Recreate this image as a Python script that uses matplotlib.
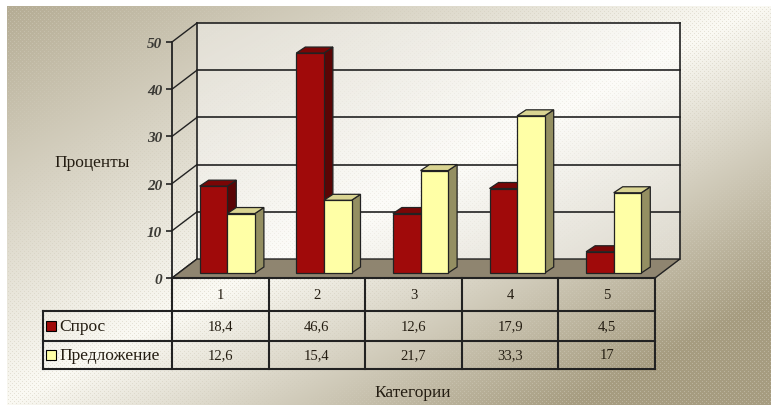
import numpy as np
import matplotlib
matplotlib.use("Agg")
import matplotlib.pyplot as plt
from matplotlib.patches import Polygon

# data
categories = ["1", "2", "3", "4", "5"]
series_names = ["Спрос", "Предложение"]
demand = [18.4, 46.6, 12.6, 17.9, 4.5]
supply = [12.6, 15.4, 21.7, 33.3, 17]
y_ticks = [0, 10, 20, 30, 40, 50]

W, H = 771, 406
fig = plt.figure(figsize=(W / 100, H / 100), dpi=100)

# textured gradient backdrop
yy, xx = np.mgrid[0:H, 0:W]
s = xx / W + yy / H
g = np.where(s > 1, (s - 1) * 1.35, (1 - s) * 0.85)
g = np.clip(g, 0, 1)[..., None]
light = np.array([251, 250, 244]) / 255
dark = np.array([166, 156, 128]) / 255
base = light * (1 - g) + dark * g
mid = (light + dark) / 2
dots = ((xx % 4 == 0) & (yy % 4 == 0)) | ((xx % 4 == 2) & (yy % 4 == 2))
img = np.where(dots[..., None], base * 0.5 + mid * 0.5, base)
img[:7, :] = 1
img[:, :7] = 1
bg = fig.add_axes([0, 0, 1, 1], zorder=0)
bg.imshow(img, aspect="auto", interpolation="nearest")
bg.axis("off")

# front plane of the plot: x in categories, y in percent
x0p, y0p, x1p, y1p = 172, 279, 655, 43
ax = fig.add_axes([x0p / W, (H - y0p) / H, (x1p - x0p) / W, (y0p - y1p) / H], zorder=1)
ax.set_xlim(0, len(categories))
ax.set_ylim(0, 50)
ax.patch.set_alpha(0)
px = (x1p - x0p) / len(categories)   # pixels per category
py = (y0p - y1p) / 50                # pixels per percent

line_col = "#222222"
text_col = "#241d12"
DX, DY = 25 / px, 19 / py            # depth of walls
n = len(categories)

# back wall
wall = Polygon([(DX, DY), (n + DX, DY), (n + DX, 50 + DY), (DX, 50 + DY)],
               closed=True, facecolor="white", alpha=0.45, edgecolor="none",
               zorder=1, clip_on=False)
ax.add_patch(wall)
for v in y_ticks[1:]:
    ax.plot([DX, n + DX], [v + DY, v + DY], color=line_col, lw=1.2, zorder=1.5, clip_on=False)
for v in y_ticks:
    ax.plot([0, DX], [v, v + DY], color=line_col, lw=1.0, zorder=1.5, clip_on=False)
ax.plot([DX, DX], [DY, 50 + DY], color=line_col, lw=1.2, zorder=1.5, clip_on=False)
ax.plot([n + DX, n + DX], [DY, 50 + DY], color=line_col, lw=1.2, zorder=1.5, clip_on=False)

# floor
floor = Polygon([(0, 0), (n, 0), (n + DX, DY), (DX, DY)], closed=True,
                facecolor="#8f8570", edgecolor=line_col, lw=1.0, zorder=2, clip_on=False)
ax.add_patch(floor)

# 3d columns
w = 1 / 3.5
gap = 0.75 * w
ox, oy = 7 / px, 5 / py
bx, by = 9 / px, 6 / py
styles = [("#a00a0a", "#7a0606", "#5a0505"), ("#ffffa6", "#d9d492", "#948f62")]
z = 3.0
for i in range(n):
    for k, vals in enumerate([demand, supply]):
        front, top, side = styles[k]
        x0 = i + gap + k * w + ox
        v = vals[i]
        ax.add_patch(Polygon([(x0 + w, oy), (x0 + w + bx, oy + by), (x0 + w + bx, oy + v + by),
                              (x0 + w, oy + v)], closed=True, facecolor=side,
                             edgecolor=line_col, lw=0.9, zorder=z, clip_on=False))
        ax.add_patch(Polygon([(x0, oy + v), (x0 + bx, oy + v + by), (x0 + w + bx, oy + v + by),
                              (x0 + w, oy + v)], closed=True, facecolor=top,
                             edgecolor=line_col, lw=0.9, zorder=z + 0.01, clip_on=False))
        ax.bar(x0, v, width=w, bottom=oy, align="edge", color=front,
               edgecolor=line_col, lw=0.9, zorder=z + 0.02, clip_on=False)
        z += 0.1

# value axis
for sp in ["top", "right", "bottom"]:
    ax.spines[sp].set_visible(False)
ax.spines["left"].set_color(line_col)
ax.spines["left"].set_linewidth(1.3)
ax.set_xticks([])
ax.set_yticks(y_ticks)
ax.set_yticklabels([str(t) for t in y_ticks], fontfamily="Liberation Serif",
                   fontstyle="italic", fontweight="bold", fontsize=11, color="#3b3a35")
ax.tick_params(axis="y", direction="out", length=4, width=1.2, color=line_col, pad=3)

# data table under the plot
r1, r2, r3 = -33 / py, -63 / py, -91 / py
leg_x = -129 / px
tbl = dict(color=line_col, lw=1.5, zorder=5, clip_on=False)
for c in range(n + 1):
    ax.plot([c, c], [0, r3], **tbl)
ax.plot([0, n], [0, 0], **tbl)
for r in (r1, r2, r3):
    ax.plot([leg_x, n], [r, r], **tbl)
ax.plot([leg_x, leg_x], [r1, r3], **tbl)

num_font = dict(fontfamily="Liberation Serif", fontsize=10.5, color=text_col)
lbl_font = dict(fontfamily="Liberation Serif", fontsize=12.5, color=text_col)
for i, cat in enumerate(categories):
    ax.text(i + 0.5, r1 / 2, cat, ha="center", va="center", **num_font)
for row, (lo, hi, vals, name, col) in enumerate([(r1, r2, demand, series_names[0], styles[0][0]),
                                                 (r2, r3, supply, series_names[1], styles[1][0])]):
    yc = (lo + hi) / 2
    for i, v in enumerate(vals):
        ax.text(i + 0.5, yc, f"{v:g}".replace(".", ","), ha="center", va="center", **num_font)
    ax.plot([leg_x + 8 / px], [yc], marker="s", ms=6.5, mfc=col, mec="black", mew=0.8,
            zorder=6, clip_on=False)
    ax.text(leg_x + 16 / px, yc, name, ha="left", va="center", **lbl_font)

fig.text(92 / W, 1 - 163 / H, "Проценты", ha="center", va="center", **lbl_font)
fig.text(413 / W, 1 - 393 / H, "Категории", ha="center", va="center", **lbl_font)

fig.savefig("out.png", dpi=100)
